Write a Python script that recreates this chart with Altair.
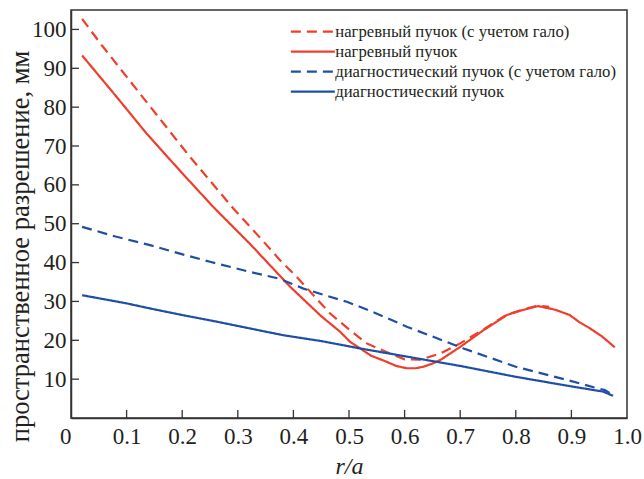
import altair as alt
import pandas as pd

# --- data ---
names = [
    "нагревный пучок (с учетом гало)",
    "нагревный пучок",
    "диагностический пучок (с учетом гало)",
    "диагностический пучок",
]

x_heat_halo = [0.02, 0.055, 0.136, 0.214, 0.292, 0.34, 0.376, 0.406, 0.466, 0.5, 0.532, 0.562,
               0.6, 0.628, 0.664, 0.7, 0.742, 0.784, 0.81, 0.84, 0.86]
y_heat_halo = [102.7, 96.0, 81.3, 67.2, 53.9, 46.4, 40.6, 36.3, 26.9, 22.8, 19.2, 17.3,
               15.1, 15.0, 16.6, 19.2, 22.8, 26.6, 27.8, 28.9, 28.6]

x_heat = [0.02, 0.08, 0.136, 0.2, 0.256, 0.322, 0.394, 0.45, 0.484, 0.502, 0.52, 0.54, 0.562,
          0.585, 0.604, 0.62, 0.634, 0.65, 0.664, 0.7, 0.742, 0.784, 0.81, 0.84, 0.87,
          0.897, 0.915, 0.933, 0.955, 0.978]
y_heat = [93.3, 83.0, 73.2, 63.0, 54.3, 44.8, 33.8, 26.2, 22.2, 19.6, 17.9, 16.0, 14.8,
          13.4, 12.8, 12.8, 13.2, 14.0, 14.9, 18.3, 22.6, 26.5, 27.7, 28.8, 27.9,
          26.5, 24.6, 23.1, 21.0, 18.2]

x_diag_halo = [0.02, 0.08, 0.142, 0.196, 0.25, 0.322, 0.376, 0.418, 0.496, 0.538, 0.604, 0.706,
               0.8, 0.892, 0.94, 0.96, 0.975]
y_diag_halo = [49.2, 46.7, 44.5, 42.3, 40.2, 37.6, 35.8, 33.3, 29.9, 27.6, 23.5, 17.9,
               13.2, 9.8, 7.9, 7.2, 5.9]

x_diag = [0.02, 0.1, 0.142, 0.2, 0.262, 0.32, 0.382, 0.45, 0.52, 0.604, 0.7, 0.8,
          0.897, 0.957, 0.975]
y_diag = [31.6, 29.5, 28.2, 26.5, 24.8, 23.1, 21.3, 19.8, 17.9, 15.8, 13.4, 10.6,
          8.2, 6.8, 5.7]

x_tick_values = [0.0, 0.1, 0.2, 0.3, 0.4, 0.5, 0.6, 0.7, 0.8, 0.9, 1.0]
y_tick_values = [10, 20, 30, 40, 50, 60, 70, 80, 90, 100]
inner_x_ticks = [0.1, 0.2, 0.3, 0.4, 0.5, 0.6, 0.7, 0.8, 0.9]

RED = "#ef3e2b"
BLUE = "#1f4ea6"
FONT = "Liberation Serif"
TXT = "#231f20"
X_TITLE = "r/a"
Y_TITLE = "пространственное разрешение, мм"

rows = []
for name, xs, ys in [
    (names[0], x_heat_halo, y_heat_halo),
    (names[1], x_heat, y_heat),
    (names[2], x_diag_halo, y_diag_halo),
    (names[3], x_diag, y_diag),
]:
    for xv, yv in zip(xs, ys):
        rows.append({"series": name, "x": xv, "y": yv})
df = pd.DataFrame(rows)

xscale = alt.Scale(domain=[0, 1], nice=False, zero=False)
yscale = alt.Scale(domain=[0, 105], nice=False, zero=False)

legend = alt.Legend(
    title=None,
    orient="none",
    legendX=233.5,
    legendY=13.2,
    symbolType="M-4,0H4",
    symbolSize=121,
    symbolStrokeWidth=2.2,
    symbolFillColor="transparent",
    labelFont=FONT,
    labelFontSize=16.7,
    labelColor=TXT,
    labelOffset=14,
    labelLimit=0,
    rowPadding=2,
    padding=0,
)

lines = alt.Chart(df).mark_line(strokeWidth=2.2).encode(
    x=alt.X("x:Q", scale=xscale, title=X_TITLE,
            axis=alt.Axis(values=x_tick_values,
                          labelExpr="datum.value == 0 ? '0' : format(datum.value, '.1f')",
                          labelAlign=alt.condition("datum.value == 0", alt.value("right"), alt.value("center")),
                          ticks=False, grid=False, labelPadding=7,
                          titleFontStyle="italic", titlePadding=6)),
    y=alt.Y("y:Q", scale=yscale, title=Y_TITLE,
            axis=alt.Axis(values=y_tick_values, ticks=False, grid=False, labelPadding=5,
                          titleAngle=270, titleX=-51, titleY=236, titleFontSize=26.5,
                          titleAlign="center", titleBaseline="middle")),
    color=alt.Color("series:N", scale=alt.Scale(domain=names, range=[RED, RED, BLUE, BLUE]),
                    legend=legend),
    strokeDash=alt.StrokeDash("series:N",
                              scale=alt.Scale(domain=names, range=[[10, 6], [1, 0], [10, 6], [1, 0]]),
                              legend=legend),
)

xt = alt.Chart(pd.DataFrame({"x": inner_x_ticks})).mark_rule(
    color="#333", strokeWidth=1.3, y2Offset=-8
).encode(
    x=alt.X("x:Q", scale=xscale, title=X_TITLE),
    y=alt.YDatum(0, scale=yscale, title=Y_TITLE),
    y2=alt.Y2Datum(0),
)

yt = alt.Chart(pd.DataFrame({"y": y_tick_values})).mark_rule(
    color="#333", strokeWidth=1.3, x2Offset=8
).encode(
    y=alt.Y("y:Q", scale=yscale, title=Y_TITLE),
    x=alt.XDatum(0, scale=xscale, title=X_TITLE),
    x2=alt.X2Datum(0),
)

chart = alt.layer(lines, xt, yt).properties(
    width=556,
    height=408,
    padding={"left": 71, "top": 10, "right": 17, "bottom": 61},
    autosize=alt.AutoSizeParams(type="none"),
    background="white",
).configure_view(
    stroke="#333", strokeWidth=1.5
).configure_axis(
    domainColor="#333", domainWidth=1.5,
    labelFont=FONT, labelFontSize=23, labelColor=TXT,
    titleFont=FONT, titleFontSize=24, titleFontWeight="normal", titleColor=TXT,
)

chart.save("out.html", embed_options={"renderer": "svg", "actions": False})
